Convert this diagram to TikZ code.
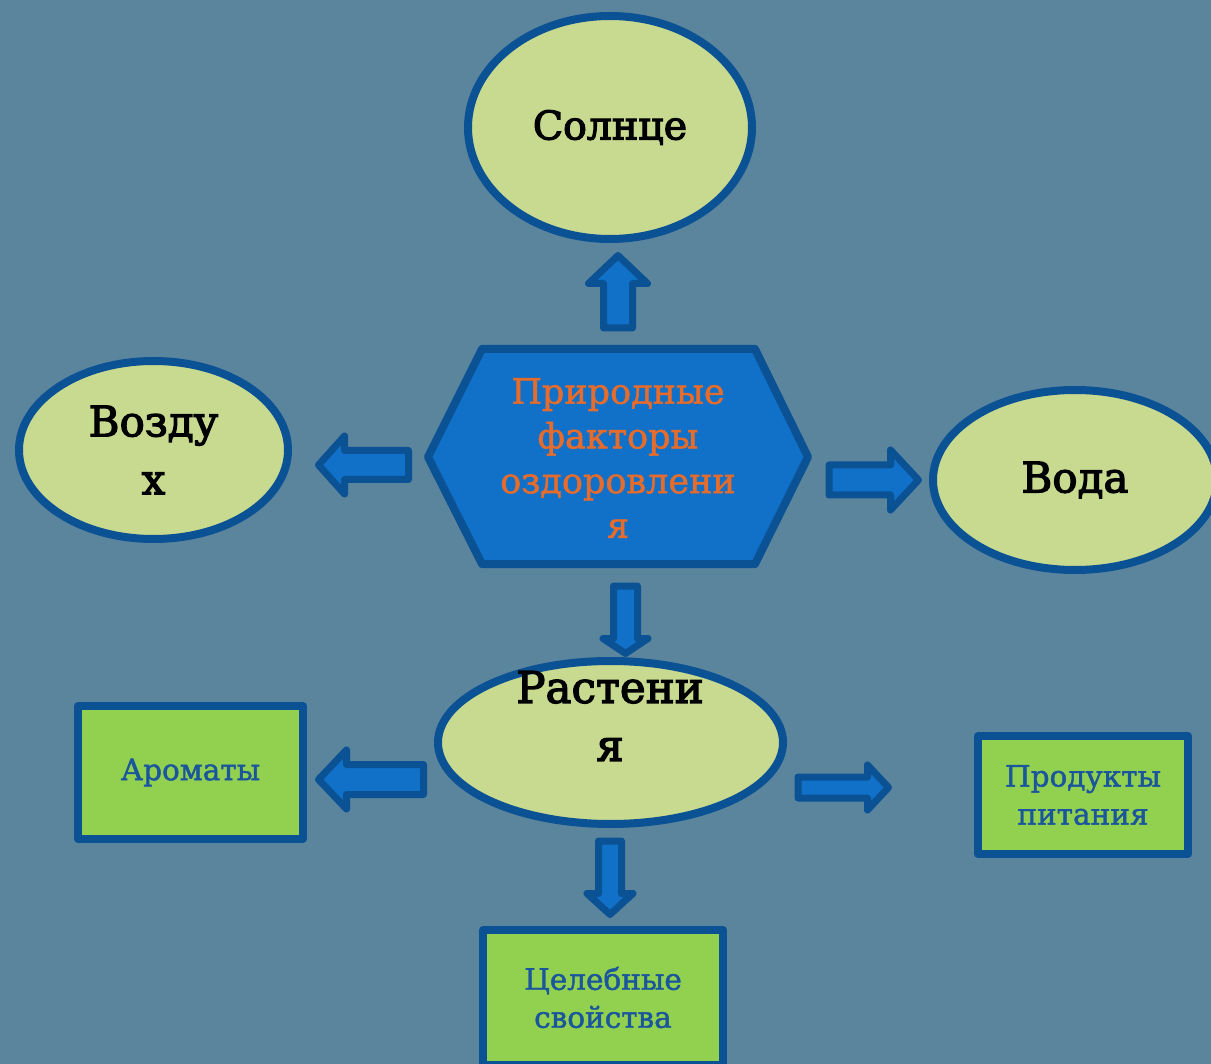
\documentclass[tikz,border=0pt]{standalone}
\usepackage{fontspec}
\setmainfont{DejaVu Serif}
\newfontfamily\heavyserif{DejaVu Serif}[FakeBold=3]
\newfontfamily\midserif{DejaVu Serif}[FakeBold=1.5]
\usetikzlibrary{shapes.geometric,calc}
\definecolor{bgc}{RGB}{91,132,157}
\definecolor{bord}{RGB}{11,82,148}
\definecolor{ellfill}{RGB}{200,218,144}
\definecolor{hexfill}{RGB}{17,112,200}
\definecolor{rectfill}{RGB}{146,208,80}
\definecolor{orangetxt}{RGB}{228,108,44}
\definecolor{recttxt}{RGB}{26,86,156}
\begin{document}
\begin{tikzpicture}[x=1pt,y=-1pt,
  ell/.style={ellipse, draw=bord, fill=ellfill, line width=8pt, inner sep=0pt,
    text=black, align=center},
  bigfont/.style={font=\heavyserif\fontsize{42}{58}\selectfont},
  sunfont/.style={font=\heavyserif\fontsize{39.5}{45}\selectfont},
  box/.style={rectangle, draw=bord, fill=rectfill, line width=8pt, line join=round,
    inner sep=0pt, text=recttxt, font=\midserif\fontsize{29.5}{38}\selectfont, align=center},
  hexshape/.style={draw=bord, fill=hexfill, line width=8pt, line join=round},
  bigtext/.style={text=black, font=\heavyserif\fontsize{43.5}{58}\selectfont, align=center},
  hextext/.style={text=orangetxt, font=\midserif\fontsize{35}{44.7}\selectfont, align=center},
  barrow/.style n args={3}{draw=bord, fill=hexfill, line width=7pt, line join=round,
    to path={-- ($(\tikztostart)!#1!-90:(\tikztotarget)$)
      -- ($($(\tikztotarget)!#3!(\tikztostart)$)!#1!-90:(\tikztotarget)$)
      -- ($($(\tikztotarget)!#3!(\tikztostart)$)!#2!-90:(\tikztotarget)$)
      -- (\tikztotarget)
      -- ($($(\tikztotarget)!#3!(\tikztostart)$)!#2!90:(\tikztotarget)$)
      -- ($($(\tikztotarget)!#3!(\tikztostart)$)!#1!90:(\tikztotarget)$)
      -- ($(\tikztostart)!#1!90:(\tikztotarget)$)
      -- cycle}},
]
\useasboundingbox (0,0) rectangle (1211,1064);
\fill[bgc] (0,0) rectangle (1211,1064);

% central hexagon
\path[hexshape] (482,349) -- (755,349) -- (808,457) -- (755,564)
  -- (482,564) -- (428,457) -- cycle;
\node[hextext] (hex) at (618,458) {Природные\\факторы\\оздоровлени\\я};

% ellipses
\node[ell, sunfont, minimum width=284pt, minimum height=223pt] (sun) at (610,127.5) {Солнце};
\node[ell, bigfont, minimum width=269pt, minimum height=178pt] (air) at (153.5,450) {Возду\\х};
\node[ell, bigfont, minimum width=284pt, minimum height=180pt] (water) at (1075,480) {Вода};
\node[ell, minimum width=345pt, minimum height=163pt] (plants) at (610.5,742.5) {};
\node[bigtext] (plantstext) at (610,716) {Растени\\я};

% boxes
\node[box, minimum width=225pt, minimum height=133pt] (aroma) at (190.5,772.5) {Ароматы};
\node[box, minimum width=210pt, minimum height=118pt] (food) at (1083,795) {Продукты\\питания};
\node[box, minimum width=240pt, minimum height=135pt] (heal) at (603,997.5) {Целебные\\свойства};

% arrow end points
\coordinate (u1) at (618,328);   \coordinate (u2) at (618,255.5);
\coordinate (r1) at (829,480);   \coordinate (r2) at (918.5,480);
\coordinate (l1) at (408.5,465); \coordinate (l2) at (318.5,465);
\coordinate (d1) at (625.5,586); \coordinate (d2) at (625.5,653.5);
\coordinate (e1) at (610,841);   \coordinate (e2) at (610,914.5);
\coordinate (f1) at (798,787.5); \coordinate (f2) at (888.5,787.5);
\coordinate (g1) at (423.5,779.5); \coordinate (g2) at (318.5,779.5);

\path[barrow={14.5pt}{29.5pt}{28pt}] (u1) to (u2);
\path[barrow={15pt}{30pt}{28pt}] (r1) to (r2);
\path[barrow={14.5pt}{29pt}{26pt}] (l1) to (l2);
\path[barrow={12pt}{22.5pt}{15pt}] (d1) to (d2);
\path[barrow={11.5pt}{23pt}{21pt}] (e1) to (e2);
\path[barrow={10.5pt}{22.5pt}{21pt}] (f1) to (f2);
\path[barrow={15pt}{29.5pt}{28pt}] (g1) to (g2);
\end{tikzpicture}
\end{document}
